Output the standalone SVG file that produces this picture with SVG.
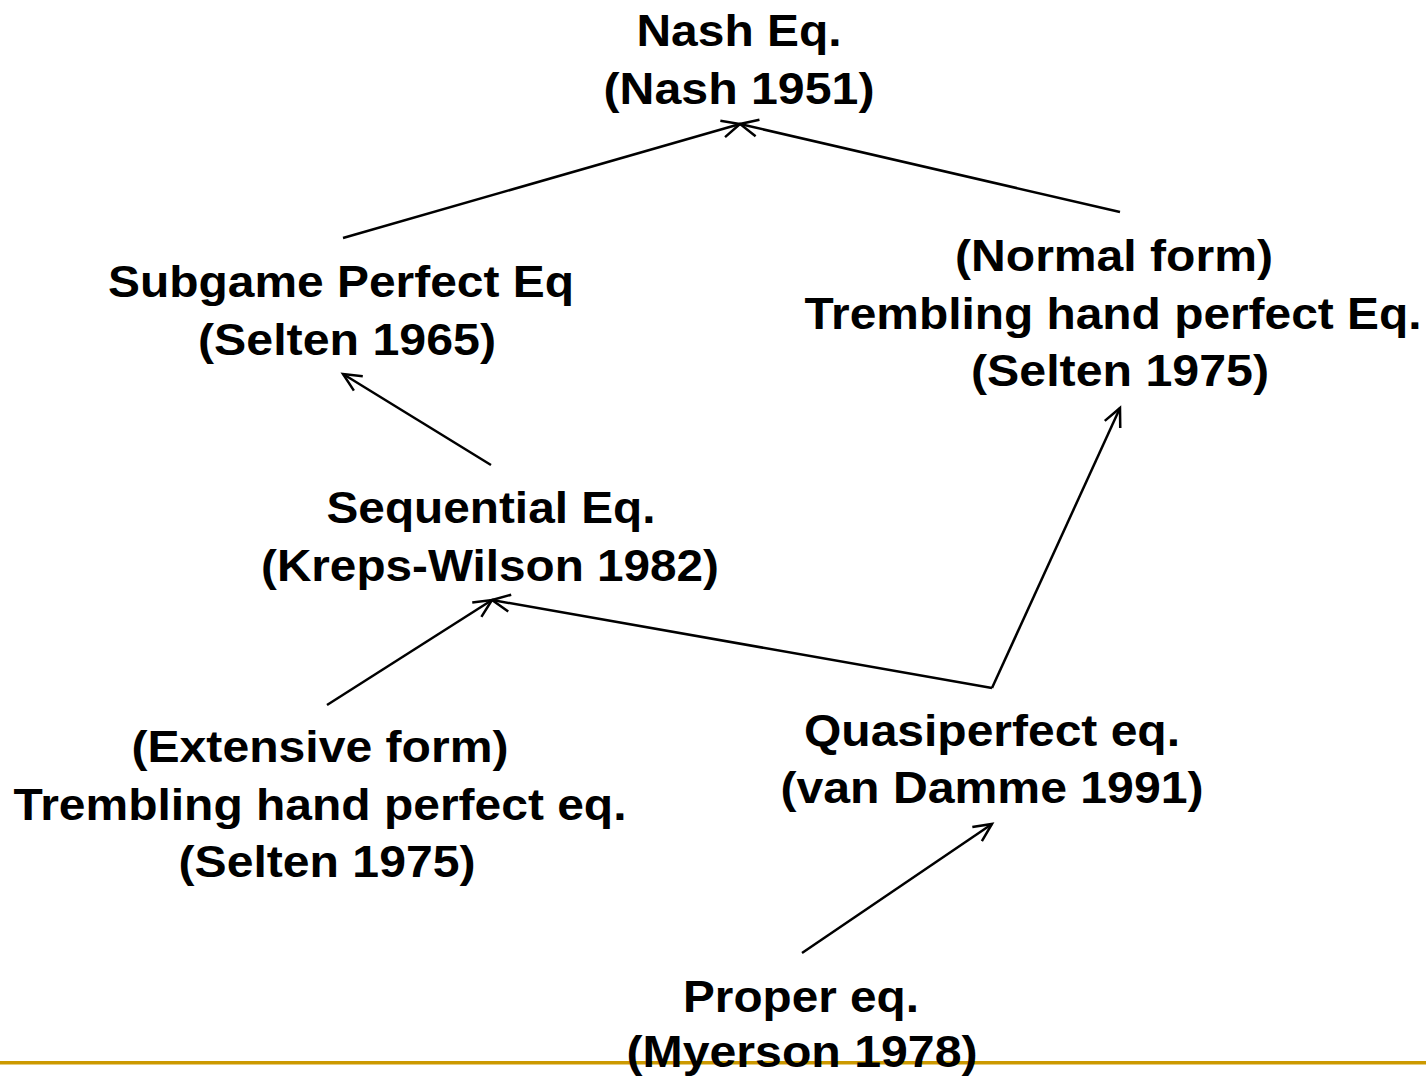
<svg xmlns="http://www.w3.org/2000/svg" width="1426" height="1076" viewBox="0 0 1426 1076">
  <defs>
    <style>
      .lbl { font-family: "Liberation Sans", Arial, sans-serif; font-weight: bold; font-size: 44px; fill: #000; text-anchor: middle; }
      .edge { stroke: #000; stroke-width: 2.5; fill: none; marker-end: url(#arrow); }
    </style>
    <marker id="arrow" markerUnits="userSpaceOnUse" markerWidth="40" markerHeight="40" viewBox="-20 -20 40 40" refX="0" refY="0" orient="auto">
      <path d="M-18,-8.5 L0,0 L-18,8.5" fill="none" stroke="#000" stroke-width="2.5" stroke-linejoin="miter"/>
    </marker>
  </defs>

  <rect width="1426" height="1076" fill="#fff"/>

  <!-- footer rule -->
  <rect x="0" y="1061" width="1426" height="3.5" fill="#CC9900"/>

  <g id="connectors">
    <line class="edge" x1="343" y1="238" x2="740" y2="124"/>
    <line class="edge" x1="1120" y1="212" x2="740" y2="124"/>
    <line class="edge" x1="491" y1="465" x2="343" y2="374"/>
    <line class="edge" x1="327" y1="705" x2="492" y2="600"/>
    <line class="edge" x1="992" y1="688" x2="492" y2="600"/>
    <line class="edge" x1="992" y1="688" x2="1120" y2="408"/>
    <line class="edge" x1="802" y1="953" x2="992" y2="824"/>
  </g>

  <g id="nash">
    <text class="lbl" x="739" y="46" textLength="205" lengthAdjust="spacingAndGlyphs">Nash Eq.</text>
    <text class="lbl" x="739" y="104" textLength="271" lengthAdjust="spacingAndGlyphs">(Nash 1951)</text>
  </g>

  <g id="subgame-perfect">
    <text class="lbl" x="341" y="297" textLength="466" lengthAdjust="spacingAndGlyphs">Subgame Perfect Eq</text>
    <text class="lbl" x="347" y="355" textLength="298" lengthAdjust="spacingAndGlyphs">(Selten 1965)</text>
  </g>

  <g id="normal-thp">
    <text class="lbl" x="1114" y="271" textLength="318" lengthAdjust="spacingAndGlyphs">(Normal form)</text>
    <text class="lbl" x="1113" y="329" textLength="617" lengthAdjust="spacingAndGlyphs">Trembling hand perfect Eq.</text>
    <text class="lbl" x="1120" y="386" textLength="298" lengthAdjust="spacingAndGlyphs">(Selten 1975)</text>
  </g>

  <g id="sequential">
    <text class="lbl" x="491" y="523" textLength="329" lengthAdjust="spacingAndGlyphs">Sequential Eq.</text>
    <text class="lbl" x="490" y="581" textLength="458" lengthAdjust="spacingAndGlyphs">(Kreps-Wilson 1982)</text>
  </g>

  <g id="extensive-thp">
    <text class="lbl" x="320" y="762" textLength="377" lengthAdjust="spacingAndGlyphs">(Extensive form)</text>
    <text class="lbl" x="320" y="820" textLength="613" lengthAdjust="spacingAndGlyphs">Trembling hand perfect eq.</text>
    <text class="lbl" x="327" y="877" textLength="297" lengthAdjust="spacingAndGlyphs">(Selten 1975)</text>
  </g>

  <g id="quasiperfect">
    <text class="lbl" x="992" y="746" textLength="376" lengthAdjust="spacingAndGlyphs">Quasiperfect eq.</text>
    <text class="lbl" x="992" y="803" textLength="423" lengthAdjust="spacingAndGlyphs">(van Damme 1991)</text>
  </g>

  <g id="proper">
    <text class="lbl" x="801" y="1012" textLength="236" lengthAdjust="spacingAndGlyphs">Proper eq.</text>
    <text class="lbl" x="802" y="1067" textLength="351" lengthAdjust="spacingAndGlyphs">(Myerson 1978)</text>
  </g>
</svg>
